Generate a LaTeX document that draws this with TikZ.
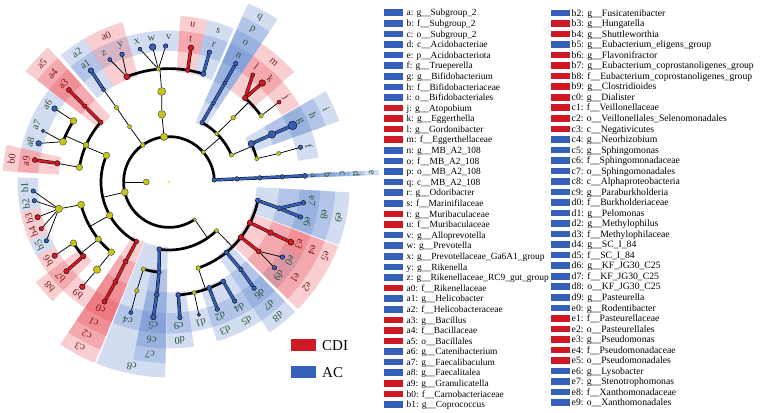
\documentclass[tikz,border=0pt]{standalone}
\usepackage{fontspec}
\setmainfont{Liberation Serif}
\pgfdeclarelayer{sect}
\pgfdeclarelayer{lines}
\pgfsetlayers{sect,lines,main}
\definecolor{cblue}{RGB}{52,96,186}
\definecolor{cred}{RGB}{218,24,36}
\definecolor{cyel}{RGB}{198,198,18}
\definecolor{shblue}{RGB}{80,120,200}
\definecolor{shred}{RGB}{230,60,72}
\definecolor{lgreen}{RGB}{40,85,55}
\definecolor{lred}{RGB}{125,25,25}
\definecolor{legblue}{RGB}{52,96,186}
\definecolor{legred}{RGB}{206,24,36}
\tikzset{
 nb/.style={circle,draw=black,line width=0.4pt,fill=cblue,inner sep=0pt},
 nr/.style={circle,draw=black,line width=0.4pt,fill=cred,inner sep=0pt},
 ny/.style={circle,draw=black!75,line width=0.4pt,fill=cyel,inner sep=0pt},
 thn/.style={line width=0.75pt,black},
 thk/.style={line width=2.7pt,black},
 bch/.style={draw=black,line width=0.45pt,double=cblue,double distance=2.4pt},
 rch/.style={draw=black,line width=0.45pt,double=cred,double distance=2.4pt},
 sb/.style={fill=shblue,fill opacity=0.25},
 sr/.style={fill=shred,fill opacity=0.25},
 labg/.style={text=lgreen,font=\fontsize{10.3}{11}\selectfont,inner sep=0pt},
 labr/.style={text=lred,font=\fontsize{10.3}{11}\selectfont,inner sep=0pt},
 legt/.style={font=\fontsize{9.4}{10}\selectfont,anchor=base west,inner sep=0pt},
 legtb/.style={font=\fontsize{9.7}{10}\selectfont,anchor=base west,inner sep=0pt},
 legbox/.style={minimum width=19pt,minimum height=6.6pt,inner sep=0pt,anchor=west},
}
\newcommand\nd[5]{\node[#4,minimum size=#5pt] (#1) at (#2:#3) {};}
\newcommand\sect[5]{\fill[#1] (#2:#4) arc[start angle=#2,end angle=#3,radius=#4] -- (#3:#5) arc[start angle=#3,end angle=#2,radius=#5] -- cycle;}
\newcommand\secG[3]{\sect{#1}{#2}{#3}{131}{151.5}}
\newcommand\secF[3]{\sect{#1}{#2}{#3}{110.4}{166.5}}
\newcommand\secO[3]{\sect{#1}{#2}{#3}{87.8}{181}}
\newcommand\secC[3]{\sect{#1}{#2}{#3}{65}{195.5}}
\newcommand\secP[3]{\sect{#1}{#2}{#3}{42.4}{210}}
\newcommand\lb[4]{\node[#4,rotate=#2-90] (L#1) at (#2:#3) {#1};}
\newcommand\tarc[4]{\draw[thk] (#1.center) arc[start angle=#2,end angle=#3,radius=#4];}
\begin{document}
\begin{tikzpicture}[x=1pt,y=1pt]
\useasboundingbox (0,0) rectangle (767,-412);
\begin{scope}[shift={(169,-182)}]
% ---------------- nodes ----------------
\node[circle,fill=cyel,inner sep=0pt,minimum size=1.6pt] (root) at (0,0) {};
\nd{Kng}{180}{22.7}{ny}{6}
% phyla
\nd{e}{2.6}{45.4}{nb}{4.6}
\nd{Pact}{41}{45.4}{ny}{4}
\nd{Pbac}{96.3}{45.4}{ny}{7.4}
\nd{Pcam}{125.4}{45.4}{ny}{4.6}
\nd{Pfir}{193}{45.4}{ny}{7}
\nd{Ppro}{304.5}{45.4}{ny}{3.6}
% classes
\nd{d}{2.6}{68}{nb}{4.6}
\nd{Cact}{23.3}{68}{ny}{4.2}
\nd{Ccor}{45.2}{68}{ny}{4}
\nd{q}{60.9}{68}{nb}{4.4}
\nd{Cbac}{96}{68}{ny}{7.6}
\nd{Ccam}{125.5}{68}{ny}{4}
\nd{Cbaci}{157}{68}{ny}{6.6}
\nd{Cclo}{209.3}{68}{ny}{6.6}
\nd{c3}{241.3}{68}{nr}{4.6}
\nd{c8}{261.8}{68}{nb}{5}
\nd{Cgam}{314.4}{68}{ny}{4}
% orders
\nd{c}{2.6}{90.8}{nb}{4.6}
\nd{Oact}{14.9}{90.8}{ny}{4}
\nd{i}{24.9}{90.8}{nb}{6.6}
\nd{Ocor}{45}{90.8}{ny}{4.6}
\nd{p}{60.7}{90.8}{nb}{4}
\nd{Obac}{94.6}{90.8}{ny}{8}
\nd{Ocam}{125.2}{90.8}{ny}{4.4}
\nd{a5}{138.8}{90.8}{nr}{4.6}
\nd{Oery}{156}{90.8}{ny}{6}
\nd{Olac}{170.7}{90.8}{ny}{6.4}
\nd{Olach}{194.5}{90.8}{ny}{7}
\nd{Oosc}{219}{90.8}{ny}{6}
\nd{Opep}{230.6}{90.8}{ny}{6.6}
\nd{c2}{241.4}{90.8}{nr}{5}
\nd{Orhi}{253.6}{90.8}{ny}{4.4}
\nd{c7}{263.7}{90.8}{nb}{4.6}
\nd{Obur}{288.8}{90.8}{ny}{4.6}
\nd{d8}{309.2}{90.8}{nb}{4.6}
\nd{e2}{322.5}{90.8}{nr}{5.6}
\nd{e5}{333.3}{90.8}{nr}{5.6}
\nd{e9}{348.2}{90.8}{nb}{5}
% families
\nd{b}{2.6}{113.4}{nb}{4.6}
\nd{Fact}{14.6}{113.4}{ny}{4}
\nd{h}{24.8}{113.4}{nb}{7.4}
\nd{Fato}{35.7}{113.4}{ny}{4.4}
\nd{m}{47.8}{113.4}{nr}{5.4}
\nd{o}{60.6}{113.4}{nb}{4}
\nd{s}{72.4}{113.4}{nb}{5}
\nd{u}{80.5}{113.4}{nr}{4.6}
\nd{Fpre}{95.4}{113.4}{ny}{4}
\nd{a0}{111.8}{113.4}{nr}{6}
\nd{a2}{125.3}{113.4}{nb}{4}
\nd{a4}{138}{113.4}{nr}{4.6}
\nd{Fery1}{147.4}{113.4}{ny}{6.6}
\nd{Fery2}{159.2}{113.4}{ny}{7}
\nd{b0}{170.5}{113.4}{nr}{5.4}
\nd{Flac}{193.7}{113.4}{ny}{7.4}
\nd{Fosc}{212.6}{113.4}{ny}{6.6}
\nd{b8}{220.9}{113.4}{nr}{5.4}
\nd{Fpep}{230.6}{113.4}{ny}{7.4}
\nd{c1}{241.8}{113.4}{nr}{5}
\nd{Frhi}{253.5}{113.4}{ny}{4.4}
\nd{c6}{263.8}{113.4}{nb}{5}
\nd{d0}{274.7}{113.4}{nb}{5}
\nd{Fcom}{282.8}{113.4}{ny}{4}
\nd{d3}{290.8}{113.4}{nb}{5}
\nd{d5}{298.6}{113.4}{nb}{5}
\nd{d7}{309.4}{113.4}{nb}{4.6}
\nd{e1}{322.3}{113.4}{nr}{5}
\nd{e4}{333.5}{113.4}{nr}{5.6}
\nd{e8}{346.6}{113.4}{nb}{5}
% genera
\nd{a}{2.6}{136}{nb}{5}
\nd{f}{14.8}{136}{nb}{4.4}
\nd{g}{24.6}{136}{nb}{8.6}
\nd{j}{36}{136}{nr}{4}
\nd{k}{46.7}{136}{nr}{6.6}
\nd{l}{52}{136}{nr}{4}
\nd{n}{60.6}{136}{nb}{4.4}
\nd{r}{72.7}{136}{nb}{4.6}
\nd{t}{80.7}{136}{nr}{5.6}
\nd{v}{91.4}{136}{nb}{4.6}
\nd{w}{96.9}{136}{nb}{6.6}
\nd{x}{102.3}{136}{nb}{4}
\nd{y}{110.2}{136}{nb}{4.6}
\nd{z}{115.8}{136}{nb}{4}
\nd{a1}{125}{136}{nb}{5.6}
\nd{a3}{137.4}{136}{nr}{5}
\nd{a6}{147.3}{136}{nb}{5.6}
\nd{a7}{157.9}{136}{nb}{3.4}
\nd{a8}{163.5}{136}{nb}{5.6}
\nd{a9}{170.7}{136}{nr}{5}
\nd{b1}{183.8}{136}{nb}{4.4}
\nd{b2}{187.9}{136}{nb}{4.4}
\nd{b3}{195}{136}{nr}{5.4}
\nd{b4}{200.1}{136}{nr}{4.4}
\nd{b5}{205.6}{136}{nb}{4.4}
\nd{b6}{212.8}{136}{nr}{5.4}
\nd{b7}{221}{136}{nr}{5.4}
\nd{b9}{230.4}{136}{nr}{5.6}
\nd{c0}{241.7}{136}{nr}{5}
\nd{c4}{253.7}{136}{nb}{4}
\nd{c5}{263.4}{136}{nb}{5.6}
\nd{c9}{274.6}{136}{nb}{4.6}
\nd{d1}{282.7}{136}{nb}{3.4}
\nd{d2}{290.8}{136}{nb}{4.6}
\nd{d4}{298.9}{136}{nb}{4.6}
\nd{d6}{308.7}{136}{nb}{4.6}
\nd{d9}{320.9}{136}{nb}{4.4}
\nd{e0}{326.5}{136}{nb}{4.6}
\nd{e3}{333.7}{136}{nr}{6}
\nd{e6}{345.1}{136}{nb}{4.6}
\nd{e7}{351.2}{136}{nb}{4.6}
% arc attachment coordinates
\coordinate (kA) at (180:45.4);
\coordinate (PactA) at (41:68);
\coordinate (PfirA) at (193:68);
\coordinate (PproA) at (304.5:68);
\coordinate (CactA) at (23.3:90.8);
\coordinate (CbaciA) at (157:90.8);
\coordinate (CcloA) at (209.3:90.8);
\coordinate (CgamA) at (314.4:90.8);
\coordinate (OcorA) at (45:113.4);
\coordinate (ObacA) at (94.6:113.4);
\coordinate (OeryA) at (156:113.4);
\coordinate (OoscA) at (219:113.4);
\coordinate (OburA) at (288.8:113.4);
% ---------------- connectors ----------------
\begin{pgfonlayer}{lines}
\foreach \p/\q in {Kng/kA,Pact/PactA,Pfir/PfirA,Ppro/PproA,Cact/CactA,Cbaci/CbaciA,Cclo/CcloA,Cgam/CgamA,Ocor/OcorA,Obac/ObacA,Oery/OeryA,Oosc/OoscA,Obur/OburA,
  Pbac/Cbac,Pcam/Ccam,Ccor/Ocor,Cbac/Obac,Ccam/Ocam,Oact/Fact,Ocam/a2,Olac/b0,Olach/Flac,Opep/Fpep,Orhi/Frhi,
  Fact/f,Fato/j,Fpre/v,Fpre/w,Fpre/x,a0/y,a0/z,Fery1/a6,Fery2/a7,Fery2/a8,Flac/b1,Flac/b2,Flac/b3,Flac/b4,Flac/b5,
  Fosc/b6,Fpep/b9,Frhi/c4,Fcom/d1,e1/d9,e1/e0}
  \draw[thn] (\p) -- (\q);
\tarc{e}{2.6}{304.5}{45.4}
\tarc{Cact}{23.3}{60.9}{68}
\tarc{Cbaci}{157}{241.3}{68}
\tarc{c8}{261.8}{314.4}{68}
\tarc{Oact}{14.9}{24.9}{90.8}
\tarc{a5}{138.8}{170.7}{90.8}
\tarc{Olach}{194.5}{230.6}{90.8}
\tarc{Orhi}{253.6}{263.7}{90.8}
\tarc{Obur}{288.8}{348.2}{90.8}
\tarc{Fato}{35.7}{47.8}{113.4}
\tarc{s}{72.4}{111.8}{113.4}
\tarc{Fery1}{147.4}{159.2}{113.4}
\tarc{Fosc}{212.6}{220.9}{113.4}
\tarc{d0}{274.7}{298.6}{113.4}
\foreach \p/\q in {e/d,d/c,c/b,b/a,i/h,h/g,q/p,p/o,o/n,s/r,a2/a1,c8/c7,c7/c6,c6/c5,d0/c9,d3/d2,d5/d4,d8/d7,d7/d6,e9/e8,e8/e6,e8/e7}
  \draw[bch] (\p) -- (\q);
\foreach \p/\q in {m/k,m/l,u/t,a5/a4,a4/a3,b0/a9,b8/b7,c3/c2,c2/c1,c1/c0,e2/e1,e5/e4,e4/e3}
  \draw[rch] (\p) -- (\q);
\end{pgfonlayer}
% ---------------- shaded sectors ----------------
\begin{pgfonlayer}{sect}
\secG{sb}{1.9}{3.3}\secF{sb}{1.9}{3.3}\secO{sb}{1.9}{3.3}\secC{sb}{1.9}{3.3}\secP{sb}{1.9}{3.3}
\secG{sb}{9.3}{19.7}
\secG{sb}{19.7}{30.1}\secF{sb}{19.7}{30.1}\secO{sb}{19.7}{30.1}
\secG{sr}{30.5}{41.35}
\secG{sr}{41.35}{49.35}
\secG{sr}{49.35}{56.3}
\secF{sr}{41.35}{56.3}
\secG{sb}{56.3}{66.1}\secF{sb}{56.3}{66.1}\secO{sb}{56.3}{66.1}\secC{sb}{56.3}{66.1}
\secG{sb}{67.2}{76.7}\secF{sb}{67.2}{76.7}
\secG{sr}{76.7}{86.05}\secF{sr}{76.7}{86.05}
\secG{sb}{86.05}{94.15}
\secG{sb}{94.15}{99.6}
\secG{sb}{99.6}{106.25}
\secG{sb}{106.25}{113}
\secG{sb}{113}{120.4}
\secF{sr}{106.25}{120.4}
\secG{sb}{120.4}{130.5}\secF{sb}{120.4}{130.5}
\secG{sr}{131.9}{142.35}\secF{sr}{131.9}{142.35}\secO{sr}{131.9}{142.35}
\secG{sb}{142.35}{152.6}
\secG{sb}{152.6}{160.7}
\secG{sb}{160.7}{167.1}
\secG{sr}{167.1}{176.2}\secF{sr}{167.1}{176.2}
\secG{sb}{178.3}{185.85}
\secG{sb}{185.85}{191.45}
\secG{sr}{191.45}{197.55}
\secG{sr}{197.55}{202.85}
\secG{sb}{202.85}{209.2}
\secG{sr}{209.2}{216.9}
\secG{sr}{216.9}{225.7}\secF{sr}{216.9}{225.7}
\secG{sr}{225.7}{235.9}
\secG{sr}{236.2}{247.7}\secF{sr}{236.2}{247.7}\secO{sr}{236.2}{247.7}\secC{sr}{236.2}{247.7}
\secG{sb}{248.2}{258.55}
\secG{sb}{258.55}{268.9}\secF{sb}{258.55}{268.9}\secO{sb}{258.55}{268.9}
\secC{sb}{248.2}{268.9}
\secG{sb}{269.1}{278.65}\secF{sb}{269.1}{278.65}
\secG{sb}{278.65}{286.75}
\secG{sb}{286.75}{294.85}\secF{sb}{286.75}{294.85}
\secG{sb}{294.85}{303.8}\secF{sb}{294.85}{303.8}
\secG{sb}{303.8}{314.2}\secF{sb}{303.8}{314.2}\secO{sb}{303.8}{314.2}
\secG{sb}{315.4}{323.7}
\secG{sb}{323.7}{330.1}
\secF{sr}{315.4}{330.1}\secO{sr}{315.4}{330.1}
\secG{sr}{330.1}{339.2}\secF{sr}{330.1}{339.2}\secO{sr}{330.1}{339.2}
\secG{sb}{339.6}{348.15}
\secG{sb}{348.15}{356.7}
\secF{sb}{339.6}{356.7}\secO{sb}{339.6}{356.7}
\end{pgfonlayer}
% ---------------- clade labels ----------------
\lb{a}{2.6}{144.5}{labg}\lb{b}{2.6}{159}{labg}\lb{c}{2.6}{173.5}{labg}\lb{d}{2.6}{188}{labg}\lb{e}{2.6}{202.5}{labg}
\lb{f}{14.5}{144.5}{labg}
\lb{g}{24.9}{144.5}{labg}\lb{h}{24.9}{159}{labg}\lb{i}{24.9}{173.5}{labg}
\lb{j}{35.9}{144.5}{labr}\lb{k}{45.35}{144.5}{labr}\lb{l}{52.8}{144.5}{labr}\lb{m}{48.8}{159}{labr}
\lb{n}{61.2}{144.5}{labg}\lb{o}{61.2}{159}{labg}\lb{p}{61.2}{173.5}{labg}\lb{q}{61.2}{188}{labg}
\lb{r}{71.95}{144.5}{labg}\lb{s}{71.95}{159}{labg}
\lb{t}{81.4}{144.5}{labr}\lb{u}{81.4}{159}{labr}
\lb{v}{90.1}{144.5}{labg}\lb{w}{96.9}{144.5}{labg}\lb{x}{102.9}{144.5}{labg}\lb{y}{109.6}{144.5}{labg}\lb{z}{116.7}{144.5}{labg}
\lb{a0}{113.3}{159}{labr}
\lb{a1}{125.45}{144.5}{labg}\lb{a2}{125.45}{159}{labg}
\lb{a3}{137.1}{144.5}{labr}\lb{a4}{137.1}{159}{labr}\lb{a5}{137.1}{173.5}{labr}
\lb{a6}{147.5}{144.5}{labg}\lb{a7}{156.65}{144.5}{labg}\lb{a8}{163.9}{144.5}{labg}
\lb{a9}{171.65}{144.5}{labr}\lb{b0}{171.65}{159}{labr}
\lb{b1}{182.1}{144.5}{labg}\lb{b2}{188.65}{144.5}{labg}\lb{b3}{194.5}{144.5}{labr}\lb{b4}{200.2}{144.5}{labr}\lb{b5}{206}{144.5}{labg}
\lb{b6}{213.05}{144.5}{labr}\lb{b7}{221.3}{144.5}{labr}\lb{b8}{221.3}{159}{labr}\lb{b9}{230.8}{144.5}{labr}
\lb{c0}{241.7}{144.5}{labr}\lb{c1}{241.7}{159}{labr}\lb{c2}{241.7}{173.5}{labr}\lb{c3}{241.7}{188}{labr}
\lb{c4}{253.4}{144.5}{labg}\lb{c5}{263.7}{144.5}{labg}\lb{c6}{263.7}{159}{labg}\lb{c7}{263.7}{173.5}{labg}\lb{c8}{258.55}{188}{labg}
\lb{c9}{273.9}{144.5}{labg}\lb{d0}{273.9}{159}{labg}
\lb{d1}{282.7}{144.5}{labg}\lb{d2}{290.8}{144.5}{labg}\lb{d3}{290.8}{159}{labg}\lb{d4}{299.3}{144.5}{labg}\lb{d5}{299.3}{159}{labg}
\lb{d6}{309}{144.5}{labg}\lb{d7}{309}{159}{labg}\lb{d8}{309}{173.5}{labg}
\lb{d9}{319.55}{144.5}{labg}\lb{e0}{326.9}{144.5}{labg}\lb{e1}{322.75}{159}{labr}\lb{e2}{322.75}{173.5}{labr}
\lb{e3}{334.65}{144.5}{labr}\lb{e4}{334.65}{159}{labr}\lb{e5}{334.65}{173.5}{labr}
\lb{e6}{343.9}{144.5}{labg}\lb{e7}{352.4}{144.5}{labg}\lb{e8}{348.15}{159}{labg}\lb{e9}{348.15}{173.5}{labg}
\end{scope}
% ---------------- group legend ----------------
\node[fill=legred,minimum width=25pt,minimum height=12pt,inner sep=0pt,anchor=north west] (kCDI) at (291,-339) {};
\node[anchor=west,inner sep=0pt,font=\fontsize{15}{16}\selectfont] (tCDI) at (322,-345.5) {CDI};
\node[fill=legblue,minimum width=25pt,minimum height=12pt,inner sep=0pt,anchor=north west] (kAC) at (291,-366) {};
\node[anchor=west,inner sep=0pt,font=\fontsize{15}{16}\selectfont] (tAC) at (322,-372.5) {AC};
% ---------------- taxa legend ----------------
\foreach \k/\col/\txt [count=\i from 0] in {
 a/legblue/g\_\_Subgroup\_2, b/legblue/f\_\_Subgroup\_2, c/legblue/o\_\_Subgroup\_2,
 d/legblue/c\_\_Acidobacteriae, e/legblue/p\_\_Acidobacteriota, f/legblue/g\_\_Trueperella,
 g/legblue/g\_\_Bifidobacterium, h/legblue/f\_\_Bifidobacteriaceae, i/legblue/o\_\_Bifidobacteriales,
 j/legred/g\_\_Atopobium, k/legred/g\_\_Eggerthella, l/legred/g\_\_Gordonibacter,
 m/legred/f\_\_Eggerthellaceae, n/legblue/g\_\_MB\_A2\_108, o/legblue/f\_\_MB\_A2\_108,
 p/legblue/o\_\_MB\_A2\_108, q/legblue/c\_\_MB\_A2\_108, r/legblue/g\_\_Odoribacter,
 s/legblue/f\_\_Marinifilaceae, t/legred/g\_\_Muribaculaceae, u/legred/f\_\_Muribaculaceae,
 v/legblue/g\_\_Alloprevotella, w/legblue/g\_\_Prevotella, x/legblue/g\_\_Prevotellaceae\_Ga6A1\_group,
 y/legblue/g\_\_Rikenella, z/legblue/g\_\_Rikenellaceae\_RC9\_gut\_group, a0/legred/f\_\_Rikenellaceae,
 a1/legblue/g\_\_Helicobacter, a2/legblue/f\_\_Helicobacteraceae, a3/legred/g\_\_Bacillus,
 a4/legred/f\_\_Bacillaceae, a5/legred/o\_\_Bacillales, a6/legblue/g\_\_Catenibacterium,
 a7/legblue/g\_\_Faecalibaculum, a8/legblue/g\_\_Faecalitalea, a9/legred/g\_\_Granulicatella,
 b0/legred/f\_\_Carnobacteriaceae, b1/legblue/g\_\_Coprococcus}
{
 \node[legbox,fill=\col] (kb\k) at (384,{-(12.7+10.59*\i)}) {};
 \node[legt] (kt\k) at (406.5,{-(15.9+10.59*\i)}) {\k: \txt};
}
\foreach \k/\col/\txt [count=\i from 0] in {
 b2/legblue/g\_\_Fusicatenibacter, b3/legred/g\_\_Hungatella, b4/legred/g\_\_Shuttleworthia,
 b5/legblue/g\_\_Eubacterium\_eligens\_group, b6/legred/g\_\_Flavonifractor,
 b7/legred/g\_\_Eubacterium\_coprostanoligenes\_group, b8/legred/f\_\_Eubacterium\_coprostanoligenes\_group,
 b9/legred/g\_\_Clostridioides, c0/legred/g\_\_Dialister, c1/legred/f\_\_Veillonellaceae,
 c2/legred/o\_\_Veillonellales\_Selenomonadales, c3/legred/c\_\_Negativicutes,
 c4/legblue/g\_\_Neorhizobium, c5/legblue/g\_\_Sphingomonas, c6/legblue/f\_\_Sphingomonadaceae,
 c7/legblue/o\_\_Sphingomonadales, c8/legblue/c\_\_Alphaproteobacteria, c9/legblue/g\_\_Paraburkholderia,
 d0/legblue/f\_\_Burkholderiaceae, d1/legblue/g\_\_Pelomonas, d2/legblue/g\_\_Methylophilus,
 d3/legblue/f\_\_Methylophilaceae, d4/legblue/g\_\_SC\_I\_84, d5/legblue/f\_\_SC\_I\_84,
 d6/legblue/g\_\_KF\_JG30\_C25, d7/legblue/f\_\_KF\_JG30\_C25, d8/legblue/o\_\_KF\_JG30\_C25,
 d9/legblue/g\_\_Pasteurella, e0/legblue/g\_\_Rodentibacter, e1/legred/f\_\_Pasteurellaceae,
 e2/legred/o\_\_Pasteurellales, e3/legred/g\_\_Pseudomonas, e4/legred/f\_\_Pseudomonadaceae,
 e5/legred/o\_\_Pseudomonadales, e6/legblue/g\_\_Lysobacter, e7/legblue/g\_\_Stenotrophomonas,
 e8/legblue/f\_\_Xanthomonadaceae, e9/legblue/o\_\_Xanthomonadales}
{
 \node[legbox,fill=\col] (kb\k) at (551,{-(13+10.53*\i)}) {};
 \node[legtb] (kt\k) at (571.5,{-(16.2+10.53*\i)}) {\k: \txt};
}
\end{tikzpicture}
\end{document}
